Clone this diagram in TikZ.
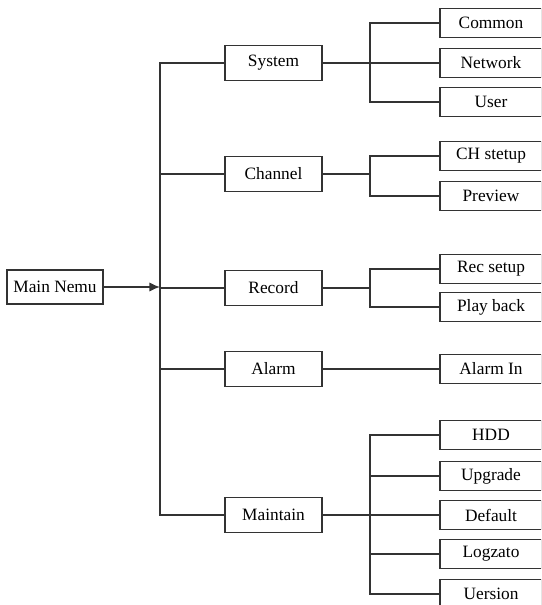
\documentclass[tikz,border=0pt]{standalone}
\usepackage{fontspec}
\setmainfont{Liberation Serif}
\usetikzlibrary{arrows.meta}

\tikzset{every picture/.style={line width=1.1pt}}

\begin{document}
\begin{tikzpicture}[x=0.75pt,y=0.75pt,yscale=-1,xscale=1,
  menubox/.style={draw=black!80, fill=white, inner sep=0pt, minimum width=72.75pt, minimum height=26.25pt, font=\fontsize{13}{15}\selectfont},
  itembox/.style={draw=black!80, fill=white, inner sep=0pt, minimum width=76.5pt, minimum height=21.75pt, font=\fontsize{13}{15}\selectfont},
  link/.style={draw=black!80}]
%set diagram area to 541 x 605
\clip (0,0) rectangle (541,605);

%Main menu
\node[menubox, minimum width=72pt, minimum height=25.5pt] (mainmenu) at (55,287) {Main Nemu};
\coordinate (hub) at (160,287);

%Second level
\node[menubox] (system) at (273.5,63) {System};
\node[menubox] (channel) at (273.5,174) {Channel};
\node[menubox] (record) at (273.5,288) {Record};
\node[menubox] (alarm) at (273.5,369) {Alarm};
\node[menubox] (maintain) at (273.5,515) {Maintain};

%Third level
\node[itembox] (common) at (491,23) {Common};
\node[itembox] (network) at (491,63) {Network};
\node[itembox] (user) at (491,102) {User};
\node[itembox] (chsetup) at (491,156) {CH stetup};
\node[itembox] (preview) at (491,196) {Preview};
\node[itembox] (recsetup) at (491,269) {Rec setup};
\node[itembox] (playback) at (491,307) {Play back};
\node[itembox] (alarmin) at (491,369) {Alarm In};
\node[itembox] (hdd) at (491,435) {HDD};
\node[itembox] (upgrade) at (491,476) {Upgrade};
\node[itembox] (default) at (491,515) {Default};
\node[itembox] (logzato) at (491,554) {Logzato};
\node[itembox] (uersion) at (491,594) {Uersion};

%Bus points
\coordinate (sysbus) at (370,63);
\coordinate (chbus) at (370,174);
\coordinate (recbus) at (370,288);
\coordinate (mtbus) at (370,515);

%Main arrow and trunk
\draw[link, -{Latex[length=8pt,width=7pt]}] (mainmenu.east) -- (hub);
\draw[link] (system.west) -| (hub) |- (maintain.west);
\draw[link] (channel.west) -- (channel.west -| hub);
\draw[link] (record.west) -- (record.west -| hub);
\draw[link] (alarm.west) -- (alarm.west -| hub);

%System branch
\draw[link] (system.east) -- (network.west);
\draw[link] (common.west) -| (sysbus) |- (user.west);

%Channel branch
\draw[link] (channel.east) -- (chbus);
\draw[link] (chsetup.west) -| (chbus) |- (preview.west);

%Record branch
\draw[link] (record.east) -- (recbus);
\draw[link] (recsetup.west) -| (recbus) |- (playback.west);

%Alarm branch
\draw[link] (alarm.east) -- (alarmin.west);

%Maintain branch
\draw[link] (maintain.east) -- (default.west);
\draw[link] (hdd.west) -| (mtbus) |- (uersion.west);
\draw[link] (upgrade.west) -- (upgrade.west -| mtbus);
\draw[link] (logzato.west) -- (logzato.west -| mtbus);

\end{tikzpicture}
\end{document}
